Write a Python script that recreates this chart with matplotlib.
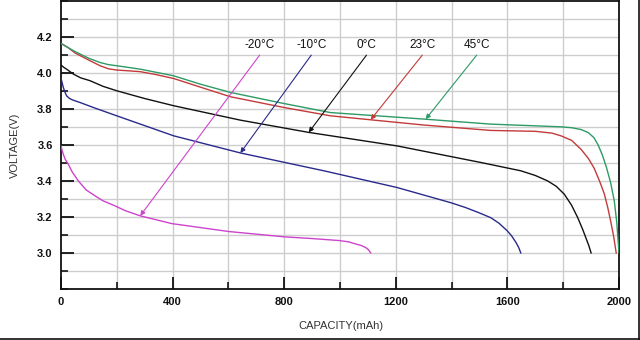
import matplotlib
matplotlib.use("Agg")
import matplotlib.pyplot as plt
import numpy as np
from matplotlib.lines import Line2D
from matplotlib.ticker import MultipleLocator

# ---- data (capacity mAh, voltage V) ----
cap_45 = [0, 25, 50, 100, 140, 170, 200, 284, 404, 499, 607, 800, 966, 1300, 1540, 1792, 1830,
          1864, 1890, 1910, 1925, 1940, 1955, 1970, 1983, 1992, 2000]
volt_45 = [4.163, 4.140, 4.118, 4.080, 4.057, 4.045, 4.039, 4.020, 3.983, 3.937, 3.891, 3.829, 3.779,
           3.743, 3.715, 3.700, 3.695, 3.685, 3.668, 3.640, 3.600, 3.545, 3.475, 3.390, 3.290, 3.170, 3.000]

cap_23 = [0, 25, 50, 100, 140, 170, 200, 250, 284, 340, 404, 500, 607, 800, 966, 1110, 1300, 1540,
          1700, 1760, 1792, 1830, 1864, 1890, 1911, 1930, 1947, 1960, 1971, 1981, 1990]
volt_23 = [4.163, 4.140, 4.110, 4.070, 4.039, 4.022, 4.015, 4.010, 4.006, 3.990, 3.968, 3.920, 3.867,
           3.807, 3.761, 3.739, 3.710, 3.680, 3.675, 3.665, 3.650, 3.625, 3.575, 3.525, 3.470, 3.400,
           3.330, 3.250, 3.170, 3.090, 3.000]

cap_0 = [0, 10, 20, 44, 70, 104, 150, 200, 300, 404, 643, 888, 1205, 1505, 1648, 1700, 1744, 1775,
         1804, 1830, 1852, 1870, 1881, 1892, 1900]
volt_0 = [4.043, 4.030, 4.020, 3.993, 3.972, 3.956, 3.925, 3.900, 3.857, 3.817, 3.737, 3.669, 3.594,
          3.502, 3.456, 3.430, 3.400, 3.370, 3.326, 3.265, 3.196, 3.130, 3.085, 3.040, 3.000]

cap_m10 = [0, 4, 8, 14, 20, 30, 40, 68, 120, 200, 404, 643, 942, 1205, 1397, 1450, 1500, 1540,
           1570, 1600, 1615, 1630, 1640, 1648]
volt_m10 = [3.970, 3.945, 3.920, 3.893, 3.872, 3.858, 3.850, 3.835, 3.805, 3.761, 3.650, 3.555,
            3.456, 3.363, 3.279, 3.252, 3.222, 3.196, 3.165, 3.122, 3.095, 3.060, 3.032, 3.000]

cap_m20 = [0, 4, 8, 15, 26, 40, 62, 90, 122, 150, 194, 230, 284, 397, 601, 804, 900, 996,
           1030, 1056, 1075, 1092, 1102, 1110]
volt_m20 = [3.594, 3.570, 3.548, 3.520, 3.493, 3.450, 3.400, 3.350, 3.317, 3.290, 3.261, 3.235,
            3.206, 3.163, 3.119, 3.089, 3.080, 3.069, 3.062, 3.050, 3.042, 3.030, 3.018, 3.000]

labels = ["-20°C", "-10°C", "0°C", "23°C", "45°C"]
label_x = [712, 897, 1095, 1295, 1490]          # label positions (mAh)
arrow_at = [284, 643, 888, 1110, 1307]          # capacity where arrow points
colors = ["#cc44cc", "#2a2a8c", "#111111", "#c43a3a", "#2e9a66"]

series = [(cap_m20, volt_m20), (cap_m10, volt_m10), (cap_0, volt_0),
          (cap_23, volt_23), (cap_45, volt_45)]

plt.rcParams['font.family'] = ['Liberation Sans', 'DejaVu Sans']

fig = plt.figure(figsize=(6.4, 3.4), dpi=100)
ax = fig.add_axes([61/640, 1 - 289/340, (619-61)/640, 289/340 - 0.002])

ax.set_xlim(0, 2000)
ax.set_ylim(2.8, 4.4)

# grid
ax.xaxis.set_major_locator(MultipleLocator(400))
ax.xaxis.set_minor_locator(MultipleLocator(200))
ax.yaxis.set_major_locator(MultipleLocator(0.2))
ax.yaxis.set_minor_locator(MultipleLocator(0.1))
for gx in np.arange(200, 2000, 200):
    ax.axvline(gx, color="#cdcdcd", lw=1.0, zorder=0)
for gy in np.arange(2.9, 4.35, 0.1):
    ax.axhline(gy, color="#cdcdcd", lw=1.0, zorder=0)

for (cx, vy), col in zip(series, colors):
    ax.plot(cx, vy, color=col, lw=1.0, zorder=3)

# annotations
for (cx, vy), lab, lx, ax_c, col in zip(series, labels, label_x, arrow_at, colors):
    hy = np.interp(ax_c, cx, vy)
    ax.annotate("", xy=(ax_c, hy), xytext=(lx, 4.098),
                arrowprops=dict(arrowstyle='-|>', color=col, lw=0.8,
                                mutation_scale=7, shrinkA=0, shrinkB=0), zorder=4)
    ax.text(lx, 4.154, lab, ha="center", va="center", fontsize=8.5,
            color="#111111", zorder=5)

# ticks
ax.tick_params(axis="both", which="major", direction="in", length=9, width=1.3,
               labelsize=8, colors="#111111", pad=6)
ax.tick_params(axis="both", which="minor", direction="in", length=5, width=1.1)
ax.tick_params(axis="y", which="both", right=False)
ax.tick_params(axis="x", which="both", top=False)
ax.set_yticks([3.0, 3.2, 3.4, 3.6, 3.8, 4.0, 4.2])
ax.set_yticklabels(["3.0", "3.2", "3.4", "3.6", "3.8", "4.0", "4.2"], fontweight="bold")
ax.set_xticks([0, 400, 800, 1200, 1600, 2000])
ax.set_xticklabels(["0", "400", "800", "1200", "1600", "2000"], fontweight="bold")

for s in ax.spines.values():
    s.set_linewidth(1.3)
    s.set_color("#111111")

fig.text(15/640, 1 - 145/340, "VOLTAGE(V)", rotation=90, ha="center", va="center",
         fontsize=8, color="#333333")
fig.text(341/640, 1 - 326/340, "CAPACITY(mAh)", ha="center", va="center",
         fontsize=8, color="#333333")

# figure border (right and bottom)
fig.add_artist(Line2D([0, 1], [0.0015, 0.0015], transform=fig.transFigure, color="#111111", lw=1.2))
fig.add_artist(Line2D([0.9985, 0.9985], [0, 1], transform=fig.transFigure, color="#111111", lw=1.2))

fig.savefig("out.png", dpi=100)
